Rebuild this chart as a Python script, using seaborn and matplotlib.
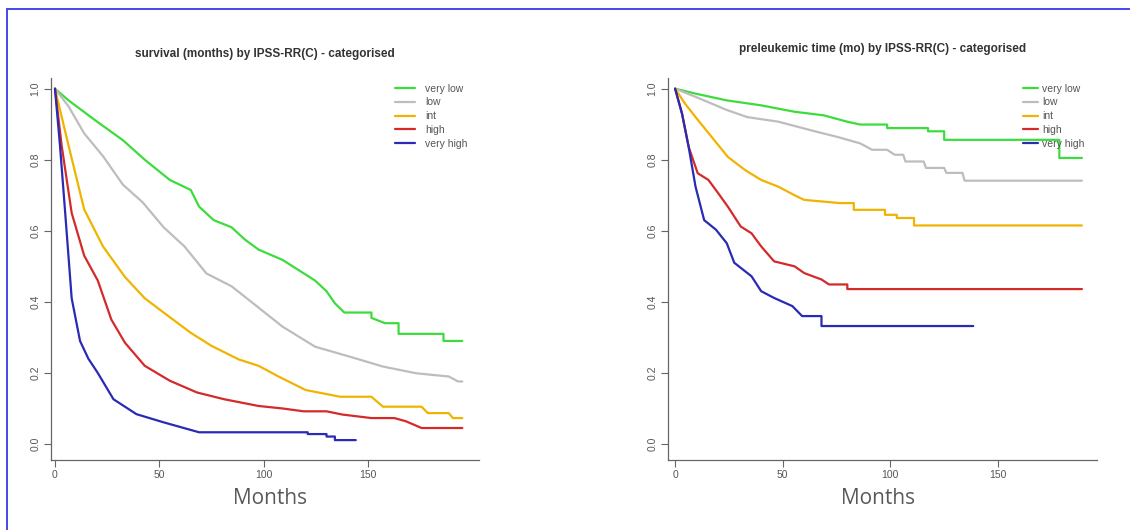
import pandas as pd
import seaborn as sns
import matplotlib.pyplot as plt
from matplotlib.lines import Line2D

# ==================== data ====================
groups = ["very low", "low", "int", "high", "very high"]
colors = ["#3cdc3c", "#bdbdbd", "#f0b400", "#d42a2a", "#2a2ab4"]

# survival (months)
surv_vl_t = [0, 6.5, 19.5, 32.5, 43, 55, 65, 69, 76, 84.5, 91, 97.5, 109, 124.5, 130, 134, 138.5, 151.5, 151.5, 158, 164.5, 164.5, 186, 186, 195]
surv_vl_s = [1, .967, .91, .855, .80, .743, .715, .668, .63, .61, .575, .547, .518, .46, .43, .396, .37, .37, .355, .34, .34, .31, .31, .29, .29]
surv_lo_t = [0, 6.5, 14, 23, 32.5, 42, 52, 62, 72.5, 84.5, 94, 109, 124.5, 141, 157, 173, 188.5, 193, 195]
surv_lo_s = [1, .95, .874, .81, .73, .68, .61, .556, .48, .444, .40, .33, .274, .246, .218, .199, .19, .176, .176]
surv_in_t = [0, 6.5, 14, 23, 33.5, 43, 52, 65, 75, 88, 97.5, 107, 120, 136.5, 151.5, 157, 175.5, 178.5, 188.5, 190.5, 195]
surv_in_s = [1, .84, .66, .556, .47, .41, .37, .313, .276, .238, .22, .19, .152, .133, .133, .105, .105, .087, .087, .073, .073]
surv_hi_t = [0, 3.2, 8, 14, 20.5, 27, 33.5, 43, 55, 68, 81, 97.5, 109, 119, 130, 137.5, 151.5, 162.5, 168, 175.5, 195]
surv_hi_s = [1, .84, .65, .53, .46, .35, .285, .22, .178, .145, .126, .107, .10, .092, .092, .083, .073, .073, .064, .045, .045]
surv_vh_t = [0, 2.4, 4.9, 8, 12, 16, 20.5, 28, 39, 52, 69, 121, 121, 130, 130, 134, 134, 144]
surv_vh_s = [1, .84, .65, .41, .29, .24, .20, .126, .084, .061, .033, .033, .028, .028, .021, .021, .011, .011]

# preleukemic time (mo)
pre_vl_t = [0, 9.5, 24, 40, 55.5, 69, 80, 86, 98.5, 98.5, 117.5, 117.5, 125, 125, 178.5, 178.5, 189]
pre_vl_s = [1, .986, .967, .953, .935, .925, .907, .899, .899, .889, .889, .88, .88, .856, .856, .805, .805]
pre_lo_t = [0, 9.5, 24, 33.5, 48, 63, 75.5, 86, 91.5, 98.5, 102, 106, 107, 115.5, 116.5, 125, 126, 133.5, 134.5, 189]
pre_lo_s = [1, .977, .94, .92, .907, .883, .864, .846, .828, .828, .814, .814, .795, .795, .777, .777, .763, .763, .741, .741]
pre_in_t = [0, 4.6, 9.5, 17, 24.5, 32.5, 40, 48, 55.5, 60, 76.5, 83, 83, 97.5, 97.5, 103, 103, 111, 111, 189]
pre_in_s = [1, .958, .92, .864, .808, .771, .743, .724, .70, .687, .678, .678, .659, .659, .645, .645, .636, .636, .615, .615]
pre_hi_t = [0, 3.2, 6.3, 10.5, 15.5, 20, 24.5, 30.5, 35.5, 40, 46, 55.5, 60, 68, 71.5, 80, 80, 189]
pre_hi_s = [1, .93, .836, .762, .743, .706, .668, .612, .593, .556, .514, .50, .481, .463, .449, .449, .436, .436]
pre_vh_t = [0, 3.2, 6.3, 9.5, 13.5, 19, 24, 27.5, 35.5, 40, 46, 54.5, 59, 68, 68, 138.5]
pre_vh_s = [1, .93, .836, .724, .63, .603, .565, .51, .472, .43, .411, .388, .36, .36, .332, .332]

x_ticks = [0, 50, 100, 150]
y_ticks = [0.0, 0.2, 0.4, 0.6, 0.8, 1.0]


def make_frame(series):
    """series: list of (t, s) in the order of groups"""
    rows = []
    for g, (t, s) in zip(groups, series):
        for i, (ti, si) in enumerate(zip(t, s)):
            rows.append((g, i, ti, si))
    return pd.DataFrame(rows, columns=["group", "order", "time", "surv"])


df_surv = make_frame([(surv_vl_t, surv_vl_s), (surv_lo_t, surv_lo_s), (surv_in_t, surv_in_s),
                      (surv_hi_t, surv_hi_s), (surv_vh_t, surv_vh_s)])
df_pre = make_frame([(pre_vl_t, pre_vl_s), (pre_lo_t, pre_lo_s), (pre_in_t, pre_in_s),
                     (pre_hi_t, pre_hi_s), (pre_vh_t, pre_vh_s)])

# ==================== plot ====================
sns.set_theme(style="white")
plt.rcParams["font.family"] = ["Liberation Sans", "DejaVu Sans"]

W, H = 1130, 530
fig = plt.figure(figsize=(W / 100, H / 100), dpi=100)
palette = dict(zip(groups, colors))
grey = "#666666"


def panel(rect, xlim, df, title, title_pad, leg_anchor, handlelength, textpad):
    ax = fig.add_axes(rect)
    sns.lineplot(data=df, x="time", y="surv", hue="group", hue_order=groups, palette=palette,
                 estimator=None, sort=False, units="group", linewidth=1.6, ax=ax, legend=False)
    ax.set_xlim(*xlim)
    ax.set_ylim(-0.045, 1.03)
    ax.set_xticks(x_ticks)
    ax.set_yticks(y_ticks)
    ax.set_xticklabels([str(v) for v in x_ticks])
    ax.set_yticklabels([f"{v:.1f}" for v in y_ticks], rotation=90, va="center")
    ax.tick_params(axis="both", direction="out", length=5, width=0.8, color=grey,
                   labelsize=7.5, labelcolor="#555555", pad=2.5, left=True, bottom=True)
    for side in ["top", "right"]:
        ax.spines[side].set_visible(False)
    for side in ["left", "bottom"]:
        ax.spines[side].set_color(grey)
        ax.spines[side].set_linewidth(0.9)
    ax.set_xlabel("")
    ax.set_ylabel("")
    ax.set_title(title, fontsize=8.5, fontweight="bold", color="#333333", pad=title_pad)
    handles = [Line2D([0], [0], color=c, lw=1.6) for c in colors]
    ax.legend(handles, groups, loc="upper left", bbox_to_anchor=leg_anchor, frameon=False,
              fontsize=7.5, labelcolor="#555555", handlelength=handlelength,
              handletextpad=textpad, labelspacing=0.36, borderpad=0, borderaxespad=0)
    return ax


ax1 = panel([51 / W, 70 / H, 428 / W, 382 / H], (-1.9, 203), df_surv,
            "survival (months) by IPSS-RR(C) - categorised", 15, (0.804, 0.985), 1.9, 1.0)
ax2 = panel([668 / W, 70 / H, 429 / W, 382 / H], (-3.3, 196), df_pre,
            "preleukemic time (mo) by IPSS-RR(C) - categorised", 19, (0.828, 0.985), 1.45, 0.4)

# big "Months" labels underneath
fig.text(270 / W, 1 - 498 / H, "Months", ha="center", va="center", fontsize=15,
         color="#595959", family=["Open Sans", "DejaVu Sans"])
fig.text(878 / W, 1 - 498 / H, "Months", ha="center", va="center", fontsize=15,
         color="#595959", family=["Open Sans", "DejaVu Sans"])

# blue frame at the top and left edge
fig.add_artist(Line2D([7 / W, 1.0], [1 - 9 / H, 1 - 9 / H], color="#4646f0", lw=1.4))
fig.add_artist(Line2D([7 / W, 7 / W], [0.0, 1 - 9 / H], color="#4646f0", lw=1.4))

fig.savefig("out.png", dpi=100, facecolor="white")
